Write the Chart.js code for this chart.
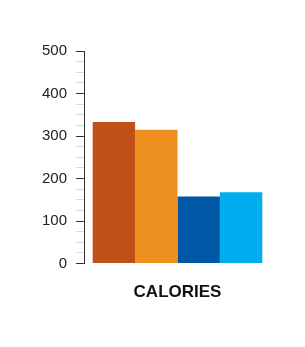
<!DOCTYPE html>
<html>
<head>
<meta charset="utf-8">
<script src="https://cdn.jsdelivr.net/npm/chart.js@4/dist/chart.umd.min.js"></script>
<style>
  html, body { margin: 0; padding: 0; background: #fff; }
  #wrap { width: 305px; height: 347px; position: relative; }
</style>
</head>
<body>
<div id="wrap"><canvas id="c" width="305" height="347"></canvas></div>
<script>
const categories = ['CALORIES'];
const seriesNames = ['Item 1', 'Item 2', 'Item 3', 'Item 4'];
const seriesValues = [333, 315, 158, 168];
const seriesColors = ['#BF5017', '#EC8F1E', '#0057A6', '#00AEEF'];
const yTicksMajor = [0, 100, 200, 300, 400, 500];

const datasets = seriesNames.map((name, i) => ({
  label: name,
  data: [seriesValues[i]],
  backgroundColor: seriesColors[i],
  borderWidth: 0,
  barPercentage: 1.0,
  categoryPercentage: 0.907
}));

new Chart(document.getElementById('c'), {
  type: 'bar',
  data: { labels: categories, datasets },
  options: {
    responsive: false,
    animation: false,
    devicePixelRatio: 1,
    layout: { padding: { left: 0, right: 34, top: 51, bottom: 33 } },
    plugins: { legend: { display: false }, tooltip: { enabled: false }, title: { display: false } },
    scales: {
      x: {
        grid: { display: false },
        border: { display: false },
        ticks: {
          color: '#111',
          padding: 11,
          font: { family: 'Liberation Sans, Arial, sans-serif', size: 17, weight: 'bold' }
        }
      },
      y: {
        min: 0,
        max: 500,
        afterFit: (s) => { s.width = 84; },
        afterDataLimits: (s) => { s.min = 0; s.max = 500; },
        border: { display: true, color: '#333', width: 1 },
        grid: {
          drawOnChartArea: false,
          drawTicks: true,
          tickLength: 8,
          tickColor: (ctx) => (yTicksMajor.includes(ctx.tick && ctx.tick.value) ? '#333' : '#DADADA'),
          color: (ctx) => (yTicksMajor.includes(ctx.tick && ctx.tick.value) ? '#333' : '#DADADA')
        },
        ticks: {
          stepSize: 25,
          autoSkip: false,
          padding: 9,
          color: '#222',
          font: { family: 'Liberation Sans, Arial, sans-serif', size: 15 },
          callback: (v) => (yTicksMajor.includes(v) ? String(v) : '')
        }
      }
    }
  }
});
</script>
</body>
</html>
